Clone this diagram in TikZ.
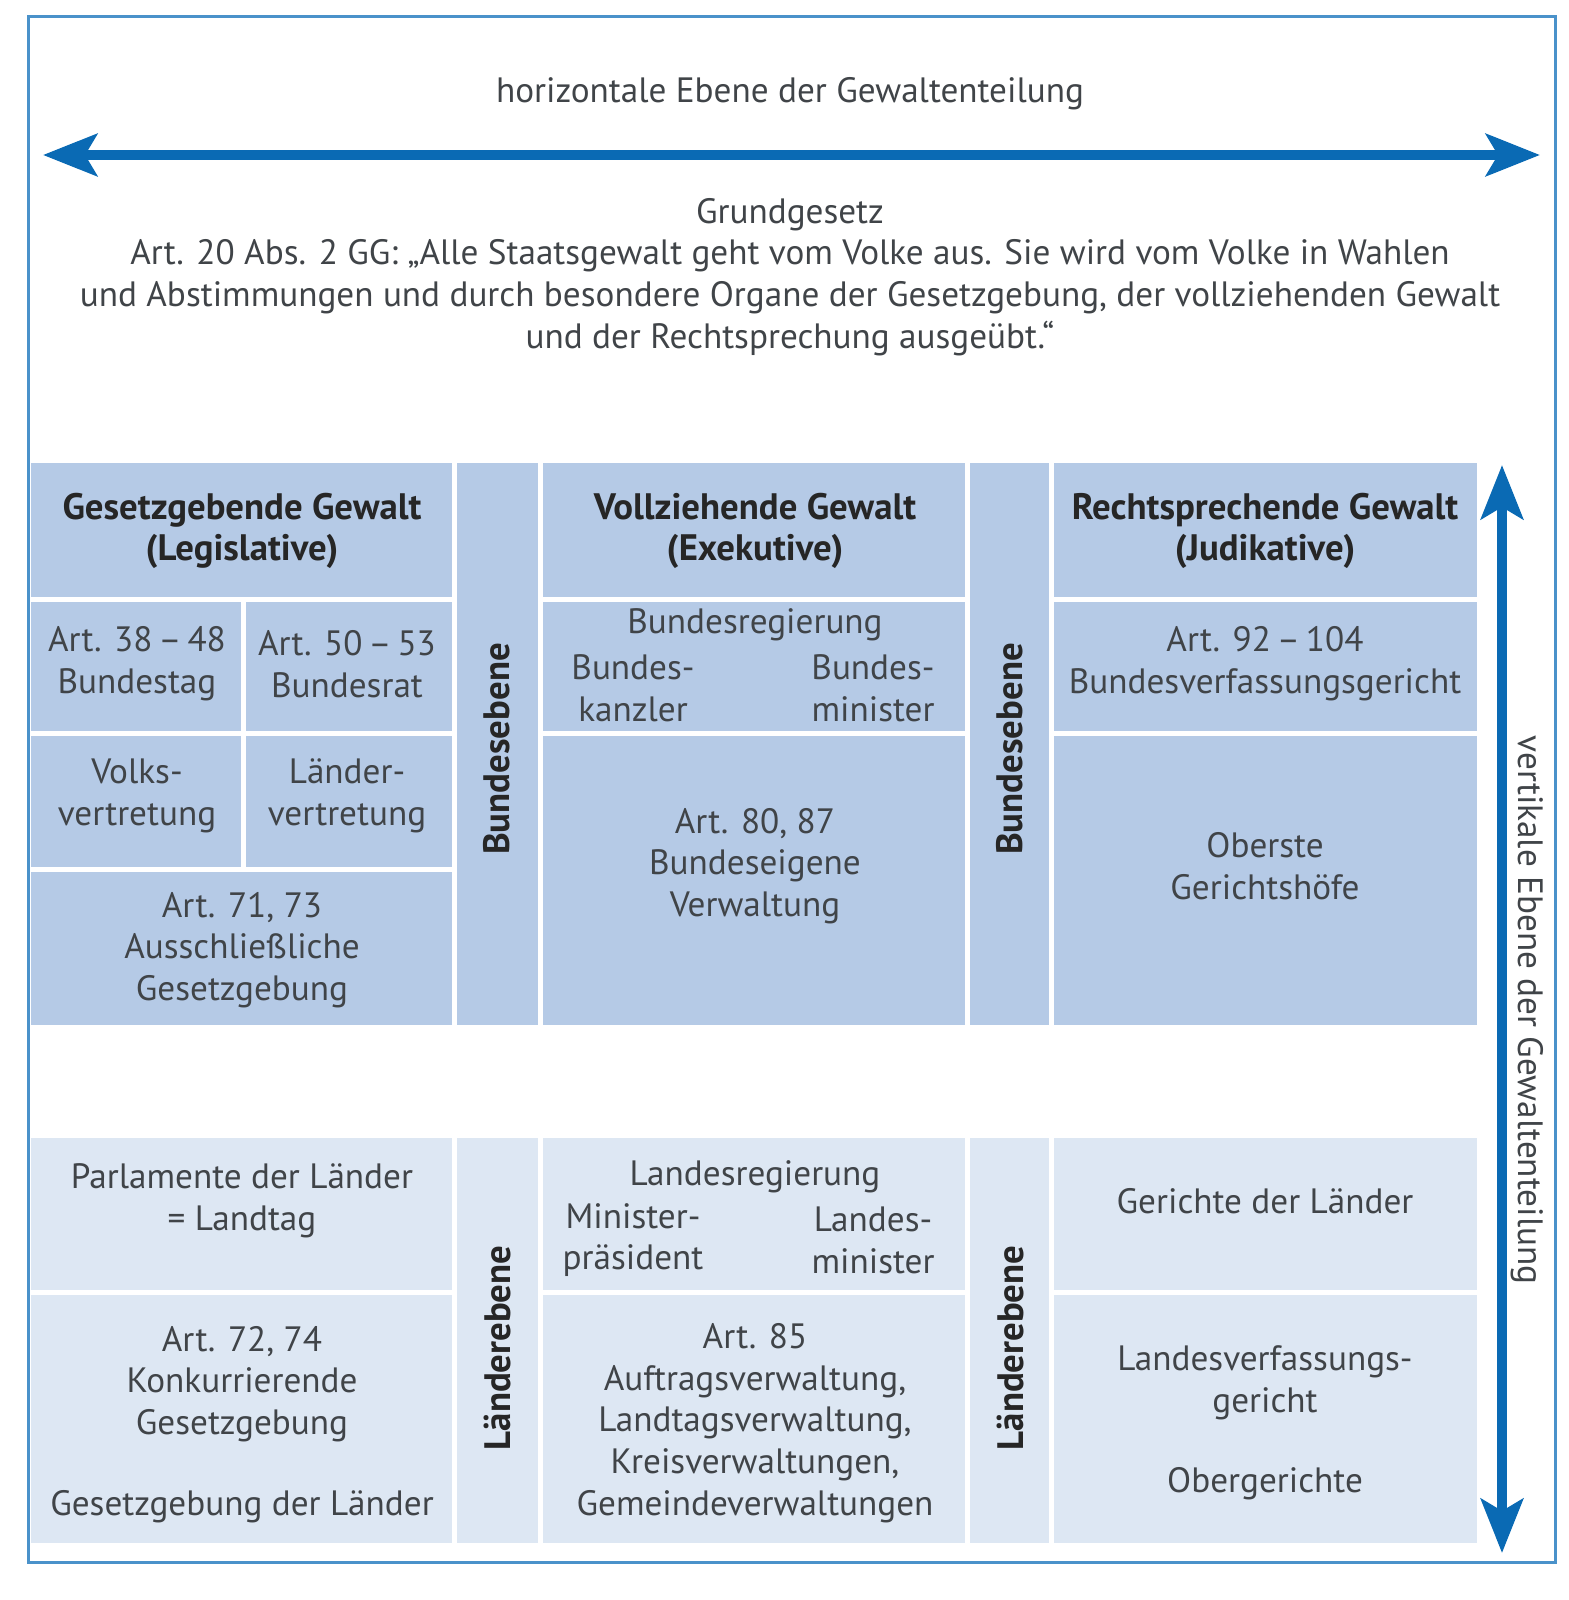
\documentclass[tikz,border=0pt]{standalone}
\usepackage{fontspec}
\setmainfont{PT Sans}
\usetikzlibrary{arrows.meta,fit}
\definecolor{arrowblue}{HTML}{0A6AB4}
\definecolor{frameblue}{HTML}{4A92CA}
\definecolor{bundfill}{HTML}{B5CAE6}
\definecolor{laendfill}{HTML}{DDE7F3}
\definecolor{txtgray}{HTML}{404448}
\tikzset{
  every picture/.style={
    line width=1pt
  },
  cellhi/.style={fill=bundfill, inner sep=0pt},
  celllo/.style={fill=laendfill, inner sep=0pt},
  txt/.style={align=center, text=txtgray, inner sep=0pt, yshift=-2pt, font=\fontsize{17.6}{20.9}\selectfont},
  head/.style={txt, text=black!85, font=\fontsize{18.4}{20.9}\selectfont\bfseries},
  level/.style={head, rotate=90},
  bigarrow/.style={draw=arrowblue, line width=5pt,
    {Stealth[length=27pt,width=21pt,inset=6pt,fill=arrowblue]}-{Stealth[length=27pt,width=21pt,inset=6pt,fill=arrowblue]}}
}

\begin{document}
\begin{tikzpicture}[x=0.5pt, y=-0.5pt]
  \useasboundingbox (0,0) rectangle (1568,1600);
  \draw[frameblue, line width=1.5pt] (28,17) rectangle (1555,1562);

  % horizontal level
  \node[txt] (horiz) at (790,90) {horizontale Ebene der Gewaltenteilung};
  \coordinate (hl) at (43,155);
  \coordinate (hr) at (1540,155);
  \draw[bigarrow] (hl) -- (hr);
  \node[txt] (gg) at (790,273) {Grundgesetz\\Art. 20 Abs. 2 GG: „Alle Staatsgewalt geht vom Volke aus. Sie wird vom Volke in Wahlen\\und Abstimmungen und durch besondere Organe der Gesetzgebung, der vollziehenden Gewalt\\und der Rechtsprechung ausgeübt.“};

  % Bundesebene
  \node[cellhi, fit={(31,463) (452,597)}] (leghead) {};
  \node[cellhi, fit={(31,602) (241,731)}] (btag) {};
  \node[cellhi, fit={(246,602) (452,731)}] (brat) {};
  \node[cellhi, fit={(31,736) (241,867)}] (volks) {};
  \node[cellhi, fit={(246,736) (452,867)}] (laender) {};
  \node[cellhi, fit={(31,872) (452,1025)}] (ausschl) {};
  \node[cellhi, fit={(457,463) (538,1025)}] (bundA) {};
  \node[cellhi, fit={(543,463) (965,597)}] (exhead) {};
  \node[cellhi, fit={(543,602) (965,731)}] (breg) {};
  \node[cellhi, fit={(543,736) (965,1025)}] (bverw) {};
  \node[cellhi, fit={(970,463) (1049,1025)}] (bundB) {};
  \node[cellhi, fit={(1054,463) (1477,597)}] (juhead) {};
  \node[cellhi, fit={(1054,602) (1477,731)}] (bvg) {};
  \node[cellhi, fit={(1054,736) (1477,1025)}] (ogh) {};

  \node[head] (legtxt) at (242,527) {Gesetzgebende Gewalt\\(Legislative)};
  \node[head] (extxt) at (755,527) {Vollziehende Gewalt\\(Exekutive)};
  \node[head] (jutxt) at (1265,527) {Rechtsprechende Gewalt\\(Judikative)};
  \node[txt] (btagtxt) at (137,660) {Art. 38\,–\,48\\Bundestag};
  \node[txt] (bratxt) at (347,660) {Art. 50\,–\,53\\Bundesrat};
  \node[txt] (volkstxt) at (137,792) {Volks-\\vertretung};
  \node[txt] (laendtxt) at (347,792) {Länder-\\vertretung};
  \node[txt] (ausschltxt) at (242,946) {Art. 71, 73\\Ausschließliche\\Gesetzgebung};
  \node[txt] (bregtxt) at (755,621) {Bundesregierung};
  \node[txt] (kanzler) at (633,684) {Bundes-\\kanzler};
  \node[txt] (bmin) at (873,684) {Bundes-\\minister};
  \node[txt] (bverwtxt) at (755,862) {Art. 80, 87\\Bundeseigene\\Verwaltung};
  \node[txt] (bvgtxt) at (1265,660) {Art. 92\,–\,104\\Bundesverfassungsgericht};
  \node[txt] (oghtxt) at (1265,862) {Oberste\\Gerichtshöfe};
  \node[level] (bundAtxt) at (497,745) {Bundesebene};
  \node[level] (bundBtxt) at (1010,745) {Bundesebene};

  % Länderebene
  \node[celllo, fit={(31,1138) (452,1290)}] (parl) {};
  \node[celllo, fit={(31,1295) (452,1543)}] (konk) {};
  \node[celllo, fit={(457,1138) (538,1543)}] (laendA) {};
  \node[celllo, fit={(543,1138) (965,1290)}] (lreg) {};
  \node[celllo, fit={(543,1295) (965,1543)}] (lverw) {};
  \node[celllo, fit={(970,1138) (1049,1543)}] (laendB) {};
  \node[celllo, fit={(1054,1138) (1477,1290)}] (gerl) {};
  \node[celllo, fit={(1054,1295) (1477,1543)}] (lvg) {};

  \node[txt] (parltxt) at (242,1197) {Parlamente der Länder\\= Landtag};
  \node[txt] (konktxt) at (242,1380) {Art. 72, 74\\Konkurrierende\\Gesetzgebung};
  \node[txt] (gesltxt) at (242,1503) {Gesetzgebung der Länder};
  \node[txt] (lregtxt) at (755,1173) {Landesregierung};
  \node[txt] (mpraes) at (633,1236) {Minister-\\präsident};
  \node[txt] (lmin) at (873,1236) {Landes-\\minister};
  \node[txt] (lverwtxt) at (755,1419) {Art. 85\\Auftragsverwaltung,\\Landtagsverwaltung,\\Kreisverwaltungen,\\Gemeindeverwaltungen};
  \node[txt] (gerltxt) at (1265,1197) {Gerichte der Länder};
  \node[txt] (lvgtxt) at (1265,1379) {Landesverfassungs-\\gericht};
  \node[txt] (obgtxt) at (1265,1480) {Obergerichte};
  \node[level] (laendAtxt) at (497,1344) {Länderebene};
  \node[level] (laendBtxt) at (1010,1344) {Länderebene};

  % vertical level
  \coordinate (vt) at (1502,465);
  \coordinate (vb) at (1502,1553);
  \draw[bigarrow] (vt) -- (vb);
  \node[txt, rotate=-90] (vert) at (1527,1006) {vertikale Ebene der Gewaltenteilung};
\end{tikzpicture}
\end{document}
